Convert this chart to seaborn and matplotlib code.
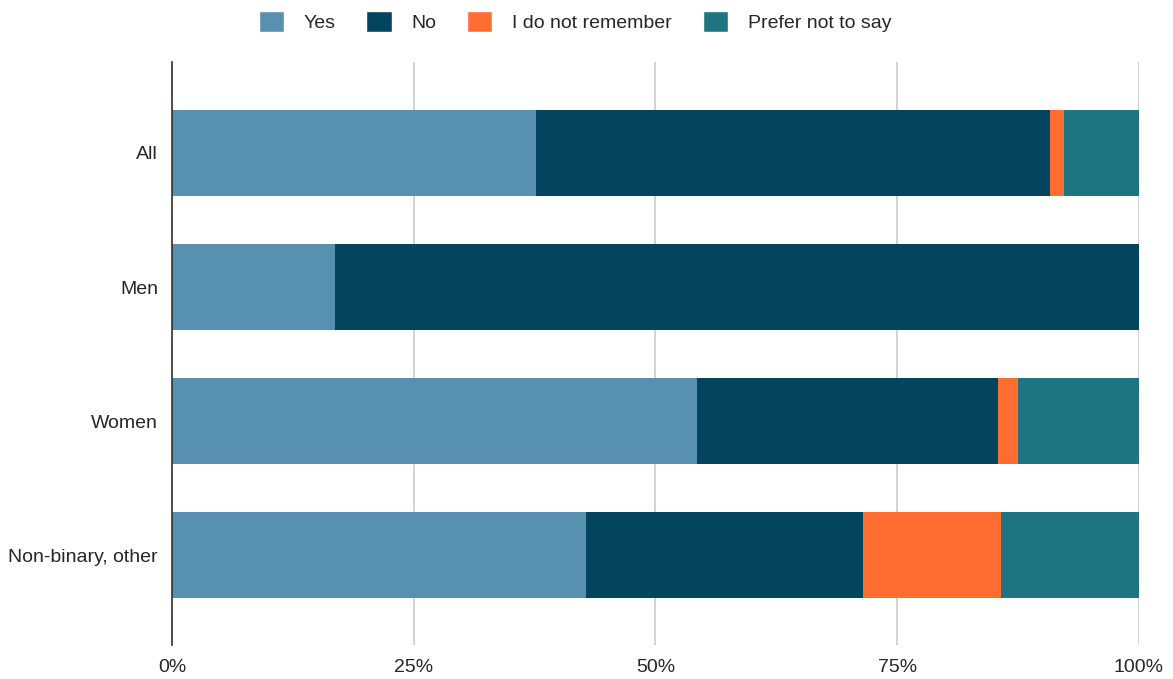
import pandas as pd
import matplotlib.pyplot as plt
import seaborn as sns
from matplotlib.patches import Patch

# Data (shares of respondents, %)
groups = ["All", "Men", "Women", "Non-binary, other"]
answers = ["Yes", "No", "I do not remember", "Prefer not to say"]
yes = [37.6, 16.9, 54.3, 42.86]
no = [53.2, 83.1, 31.1, 28.57]
not_remember = [1.4, 0.0, 2.1, 14.29]
prefer_not = [7.8, 0.0, 12.5, 14.28]
colors = ["#5891AF", "#03445F", "#FF6D31", "#1F7482"]

df = pd.DataFrame({"group": groups, "Yes": yes, "No": no,
                   "I do not remember": not_remember,
                   "Prefer not to say": prefer_not})
cum = df[answers].cumsum(axis=1)

sns.set_style("white")
plt.rcParams["font.family"] = ["Liberation Sans", "DejaVu Sans"]

fig, ax = plt.subplots(figsize=(11.73, 6.79), dpi=100)

# stacked bars: draw the widest cumulative first, then overlay
for ans, col in reversed(list(zip(answers, colors))):
    sns.barplot(x=cum[ans], y=df["group"], order=groups, color=col,
                saturation=1, linewidth=0, width=0.64, orient="h",
                ax=ax, zorder=2)

ax.set_xlim(0, 100)
ax.set_ylim(3.67, -0.68)
ax.set_xticks([0, 25, 50, 75, 100])
ax.set_xticklabels(["0%", "25%", "50%", "75%", "100%"], fontsize=14)
ax.tick_params(axis="y", labelsize=14, length=0, pad=10)
ax.tick_params(axis="x", length=0, pad=10)
ax.set_xlabel("")
ax.set_ylabel("")
ax.xaxis.grid(True, color="#CCCCCC", linewidth=1.2, zorder=0)
ax.set_axisbelow(True)
for s in ["top", "right", "bottom"]:
    ax.spines[s].set_visible(False)
ax.spines["left"].set_color("#333333")
ax.spines["left"].set_linewidth(1.2)

handles = [Patch(facecolor=c, label=a) for a, c in zip(answers, colors)]
fig.legend(handles=handles, loc="upper center", ncol=4, frameon=False,
           fontsize=14, bbox_to_anchor=(0.49, 1.01), handlelength=1.3,
           handleheight=1.3, columnspacing=1.6, handletextpad=1.0)

plt.subplots_adjust(left=0.1466, right=0.971, top=0.909, bottom=0.05)
plt.savefig("out.png", dpi=100)
